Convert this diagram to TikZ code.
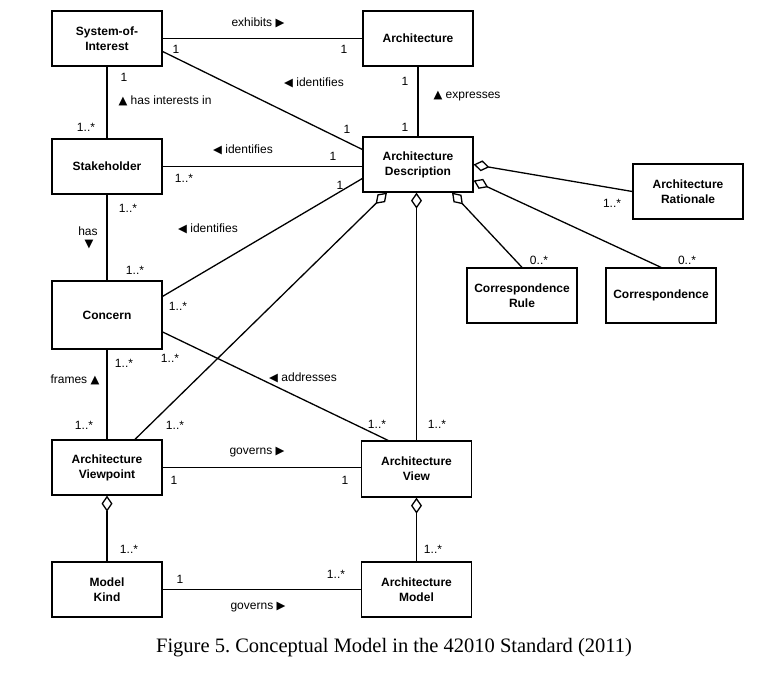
\documentclass[tikz,border=0pt]{standalone}
\usepackage{fontspec}
\setmainfont{Liberation Sans}
\newfontfamily\symfont{DejaVu Sans}
\newfontfamily\capfont{Liberation Serif}
\usetikzlibrary{arrows.meta,calc}
\newcommand\TriR{{\symfont\fontsize{11.5}{11.5}\selectfont ▶}}
\newcommand\TriL{{\symfont\fontsize{11.5}{11.5}\selectfont ◀}}
\newcommand\TriU{{\symfont\fontsize{11.5}{11.5}\selectfont ▲}}
\newcommand\TriD{{\symfont\fontsize{11.5}{11.5}\selectfont ▼}}
\frenchspacing
\tikzset{
  box/.style={draw, line width=1.3pt, minimum width=110pt, minimum height=55pt, align=center,
    font=\bfseries\fontsize{12}{15}\selectfont, inner sep=2pt},
  lbl/.style={inner sep=0pt, font=\fontsize{12}{13}\selectfont},
  conn/.style={line width=1.3pt},
  agg/.style={conn, -{Diamond[open, length=16pt, width=11pt]}}
}
\begin{document}
\begin{tikzpicture}[x=1pt, y=-1pt]
\useasboundingbox (0,0) rectangle (774,676);
% boxes
\node[box] (soi) at (107,38.5) {System-of-\\Interest};
\node[box] (arch) at (418,38.5) {Architecture};
\node[box] (stake) at (107,166.5) {Stakeholder};
\node[box] (ad) at (418,164.5) {Architecture\\Description};
\node[box] (rat) at (688,191.5) {Architecture\\Rationale};
\node[box] (crule) at (522,295.5) {Correspondence\\Rule};
\node[box] (corr) at (661,295.5) {Correspondence};
\node[box, minimum height=68pt] (concern) at (107,315) {Concern};
\node[box] (vp) at (107,467.5) {Architecture\\Viewpoint};
\node[box, minimum height=56pt] (view) at (416.5,469) {Architecture\\View};
\node[box] (mk) at (107,589.5) {Model\\Kind};
\node[box] (am) at (416.5,589.5) {Architecture\\Model};
% connectors
\draw[conn] (soi.east) -- (arch.west);
\draw[conn] ($(soi.east)+(0,13)$) -- ($(ad.west)+(0,-15)$);
\draw[conn] (soi.south) -- (stake.north);
\draw[conn] (stake.east) -- (stake.east -| ad.west);
\draw[conn] (stake.south) -- (concern.north);
\draw[conn] ($(concern.north east)+(0,16)$) -- ($(ad.west)+(0,14)$);
\draw[conn] (arch.south) -- (ad.north);
\draw[agg] ($(vp.north)+(28,0)$) -- ($(ad.south)+(-31,0)$);
\draw[agg] (view.north) -- (view.north |- ad.south);
\draw[conn] ($(concern.east)+(0,17)$) -- ($(view.north)+(-28.5,0)$);
\draw[conn] (concern.south) -- (vp.north);
\draw[conn] (vp.east) -- (vp.east -| view.west);
\draw[agg] (rat.west) -- (ad.east);
\draw[agg] (crule.north) -- ($(ad.south)+(34,0)$);
\draw[agg] (corr.north) -- ($(ad.east)+(0,16)$);
\draw[agg] (mk.north) -- (vp.south);
\draw[agg] (am.north) -- (view.south);
\draw[conn] (mk.east) -- (am.west);
% labels
\node[lbl] (l1) at (258,23) {exhibits \TriR};
\node[lbl] (l2) at (176,49) {1};
\node[lbl] (l3) at (344,49) {1};
\node[lbl] (l4) at (314,83) {\TriL\ identifies};
\node[lbl] (l5) at (347,129) {1};
\node[lbl] (l6) at (124,77) {1};
\node[lbl] (l7) at (165,101) {\TriU\ has interests in};
\node[lbl] (l8) at (86,127) {1..*};
\node[lbl] (l9) at (243,150) {\TriL\ identifies};
\node[lbl] (l10) at (333,156) {1};
\node[lbl] (l11) at (184,178) {1..*};
\node[lbl] (l12) at (340,185) {1};
\node[lbl] (l13) at (128,208) {1..*};
\node[lbl] (l14) at (88,231) {has};
\node[lbl] (l15) at (89,245) {\TriD};
\node[lbl] (l16) at (208,229) {\TriL\ identifies};
\node[lbl] (l17) at (135,270) {1..*};
\node[lbl] (l18) at (178,306) {1..*};
\node[lbl] (l19) at (124,363) {1..*};
\node[lbl] (l20) at (170,358) {1..*};
\node[lbl] (l21) at (75,380) {frames \TriU};
\node[lbl] (l22) at (303,378) {\TriL\ addresses};
\node[lbl] (l23) at (84,425) {1..*};
\node[lbl] (l24) at (175,425) {1..*};
\node[lbl] (l25) at (377,424) {1..*};
\node[lbl] (l26) at (437,424) {1..*};
\node[lbl] (l27) at (257,452) {governs \TriR};
\node[lbl] (l28) at (174,480) {1};
\node[lbl] (l29) at (345,480) {1};
\node[lbl] (l30) at (129,549) {1..*};
\node[lbl] (l31) at (433,549) {1..*};
\node[lbl] (l32) at (180,579) {1};
\node[lbl] (l33) at (336,574) {1..*};
\node[lbl] (l34) at (258,607) {governs \TriR};
\node[lbl] (l35) at (467,96) {\TriU\ expresses};
\node[lbl] (l36) at (405,81) {1};
\node[lbl] (l37) at (405,127) {1};
\node[lbl] (l38) at (612,203) {1..*};
\node[lbl] (l39) at (539,260) {0..*};
\node[lbl] (l40) at (687,260) {0..*};
\node[inner sep=0pt, font=\capfont\fontsize{20.5}{24}\selectfont] (cap) at (394,648) {Figure 5. Conceptual Model in the 42010 Standard (2011)};
\end{tikzpicture}
\end{document}
